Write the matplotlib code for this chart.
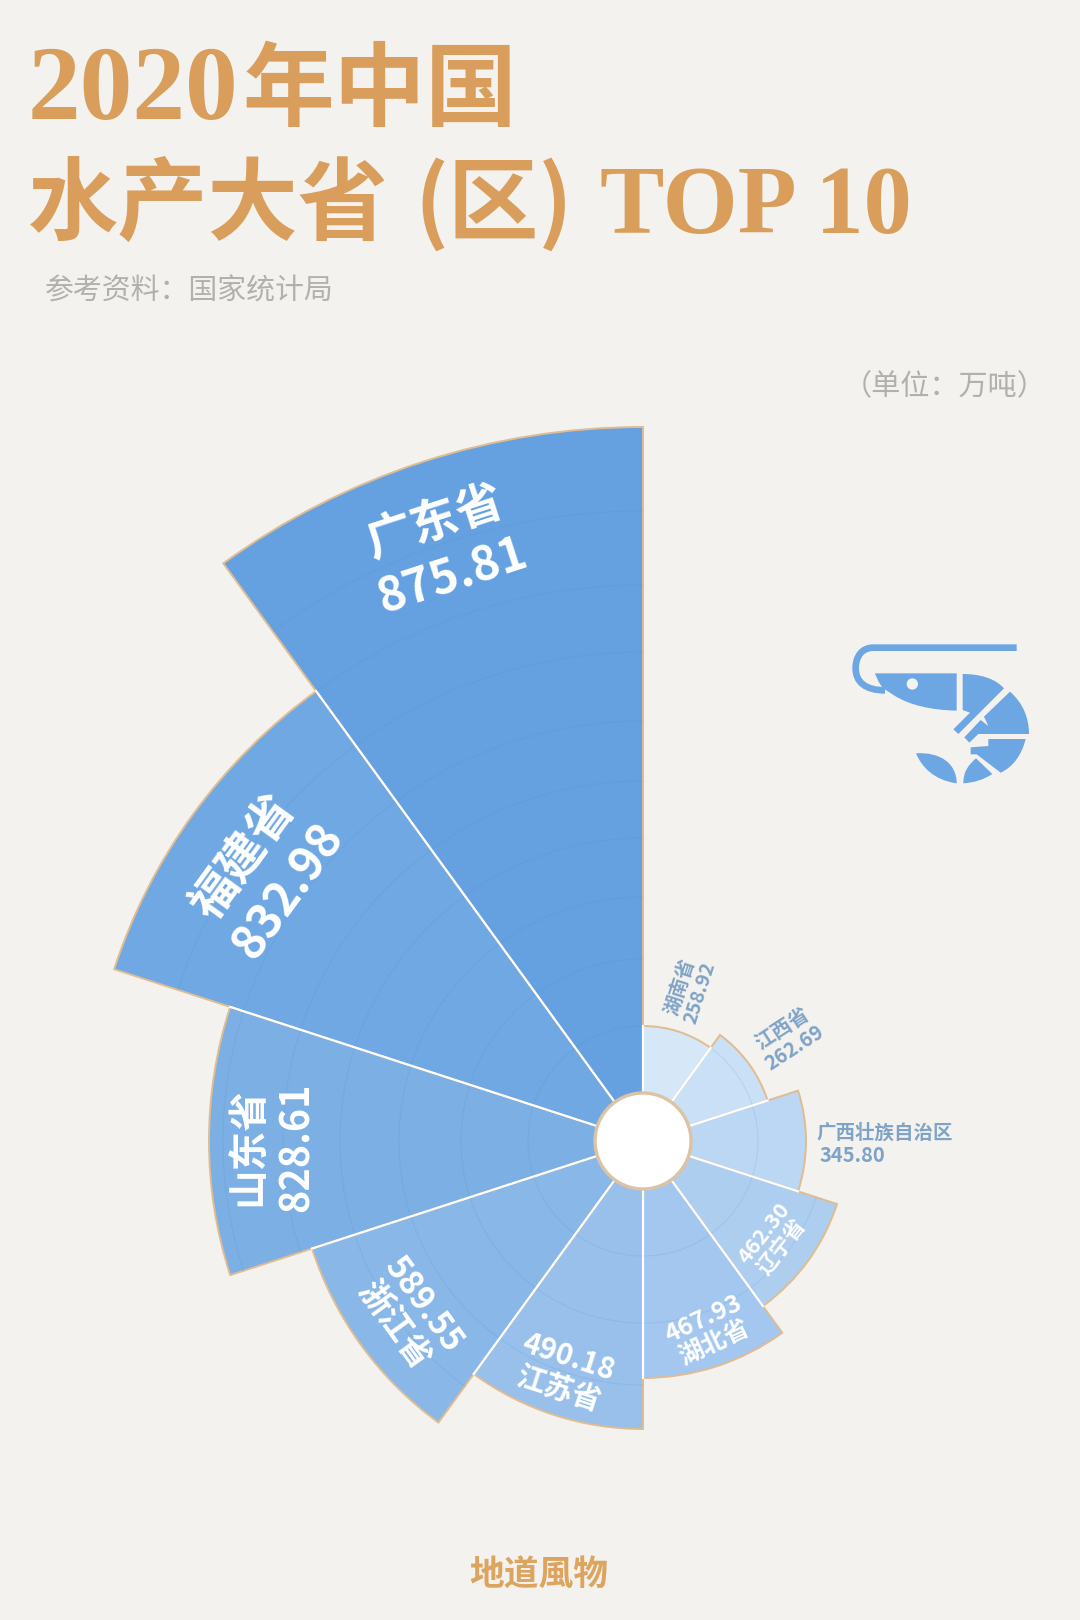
"""2020 China aquatic product top 10 provinces, rose chart."""
import matplotlib
matplotlib.use('Agg')
import matplotlib.pyplot as plt
import numpy as np
from matplotlib.patches import Circle, PathPatch
from matplotlib.path import Path

W, H = 1080, 1620
BG = '#F4F2EE'
GOLD = '#D99E5C'
TAN = '#DFBC92'
GREY = '#B2B0AA'
SMALL_BLUE = '#7FA3C7'
ICON_BLUE = '#6CA6E3'

plt.rcParams['font.family'] = ['Noto Sans CJK SC', 'DejaVu Sans']

# clockwise from 12 o'clock
provinces = ['湖南省', '江西省', '广西壮族自治区', '辽宁省', '湖北省',
             '江苏省', '浙江省', '山东省', '福建省', '广东省']
values = ['258.92', '262.69', '345.80', '462.30', '467.93',
          '490.18', '589.55', '828.61', '832.98', '875.81']
# the drawn bar lengths do not follow the values
bar_lengths = [115, 131, 163, 204, 237, 288, 348, 434, 556, 714]
ring_levels = [115, 182, 244, 303, 360, 420, 489, 556, 630]
colors = ['#D6E7F8', '#CAE0F6', '#BCD7F3', '#AECEF0', '#A3C7EE',
          '#98C0EB', '#88B7E8', '#7CAFE4', '#6FA8E2', '#65A1E0']

CX, CY = 643, 1141
HOLE = 48
R_AX = 800

fig = plt.figure(figsize=(W / 100, H / 100), dpi=100, facecolor=BG)

ax = fig.add_axes([(CX - R_AX) / W, 1 - (CY + R_AX) / H, 2 * R_AX / W, 2 * R_AX / H],
                  projection='polar')
ax.set_theta_zero_location('N')
ax.set_theta_direction(-1)
ax.set_ylim(0, R_AX)
ax.axis('off')

step = 2 * np.pi / len(bar_lengths)
centers = [step * (i + 0.5) for i in range(len(bar_lengths))]
ax.bar(centers, bar_lengths, width=step, color=colors, edgecolor=TAN, linewidth=1.4, zorder=2)

# faint rings, only inside each sector
for c, r_top in zip(centers, bar_lengths):
    arc = np.linspace(c - step / 2, c + step / 2, 40)
    for r in ring_levels:
        if r < r_top - 2:
            ax.plot(arc, [r] * 40, color='#4F86BE', alpha=0.14, lw=0.8, zorder=3)

# white dividers up to the shorter neighbour
for i in range(len(bar_lengths)):
    r_min = min(bar_lengths[i], bar_lengths[i - 1])
    ax.plot([step * i, step * i], [HOLE, r_min], color='white', lw=1.6, zorder=4)

# overlay in reference pixels for text and the icon
ov = fig.add_axes([0, 0, 1, 1], facecolor='none')
ov.set_xlim(0, W)
ov.set_ylim(H, 0)
ov.axis('off')

ov.add_patch(Circle((CX, CY), HOLE, facecolor='white', edgecolor='#DCC3A4', linewidth=2.4))

title_serif = ['Liberation Serif', 'Noto Sans CJK SC']
ov.text(28, 119, '2020', family=title_serif, fontsize=76, weight='bold', color=GOLD, va='baseline')
ov.text(243, 119, '年中国', fontsize=66, weight='bold', color=GOLD, va='baseline')
ov.text(27, 233, '水产大省', fontsize=65, weight='bold', color=GOLD, va='baseline')
ov.text(414, 233, '(区)', fontsize=65, weight='bold', color=GOLD, va='baseline')
ov.text(600, 233, 'TOP 10', family=title_serif, fontsize=69.5, weight='bold', color=GOLD, va='baseline')

ov.text(45, 292, '参考资料：国家统计局', fontsize=20.8, color=GREY, va='center')
ov.text(1047, 387, '（单位：万吨）', fontsize=21, color=GREY, va='center', ha='right')
ov.text(539, 1575, '地道風物', fontsize=25, weight='bold', color='#DDA45F', va='center', ha='center')

# name/value stacks: order flips on the lower half of the chart
label_xy = [(690, 990), (788, 1038), None, (773, 1240), (709, 1331),
            (564, 1373), (408, 1315), (273, 1147), (266, 874), (444, 549)]
label_rot = [72, 33, 0, 52, 25, -18, -54, 90, 54, 18]
label_size = [14, 14.5, 14, 15.5, 18, 21, 24, 28.5, 34, 34]
label_space = [1.08, 1.08, 1.0, 1.08, 1.12, 1.12, 1.12, 1.22, 1.22, 1.24]
label_color = [SMALL_BLUE, SMALL_BLUE, SMALL_BLUE] + ['white'] * 7
for i, (name, val) in enumerate(zip(provinces, values)):
    if label_xy[i] is None:
        continue
    txt = f'{val}\n{name}' if 3 <= i <= 6 else f'{name}\n{val}'
    ov.text(label_xy[i][0], label_xy[i][1], txt, fontsize=label_size[i], weight='bold',
            color=label_color[i], rotation=label_rot[i], rotation_mode='anchor',
            ha='center', va='center', multialignment='center', linespacing=label_space[i])

ov.text(816, 1133, provinces[2], fontsize=14, weight='bold', color=SMALL_BLUE, va='center')
ov.text(820, 1156, values[2], fontsize=14.5, weight='bold', color=SMALL_BLUE, va='center')


# shrimp icon, outline points in zoomed units
def sx(x):
    return 830 + x / 3


def sy(y):
    return 620 + y / 3


def icon_shape(verts, codes, **kw):
    pts = [(sx(x), sy(y)) for x, y in verts]
    ov.add_patch(PathPatch(Path(pts, codes), **kw))


M, L, C, Z = Path.MOVETO, Path.LINETO, Path.CURVE4, Path.CLOSEPOLY
fill = dict(facecolor=ICON_BLUE, edgecolor='none')

icon_shape([(560, 83), (130, 83), (95, 83), (77, 110), (77, 145), (77, 185), (105, 211), (165, 211)],
           [M, L, C, C, C, C, C, C], facecolor='none', edgecolor=ICON_BLUE, lw=4.8, capstyle='butt')
icon_shape([(135, 160), (380, 160), (380, 272), (300, 270), (240, 255), (195, 228),
            (160, 205), (145, 190), (135, 160), (135, 160)],
           [M, L, L, C, C, C, L, C, C, Z], **fill)
ov.add_patch(Circle((sx(247), sy(192)), 17 / 3, facecolor=BG, edgecolor='none'))
icon_shape([(398, 162), (450, 162), (495, 175), (522, 205), (385, 342), (370, 328),
            (420, 278), (398, 270), (398, 162)],
           [M, C, C, C, L, L, L, L, Z], **fill)
icon_shape([(540, 215), (580, 250), (597, 295), (597, 342), (445, 342), (418, 368), (403, 352),
            (452, 300), (475, 318), (462, 290), (540, 215)],
           [M, C, C, C, L, L, L, L, L, L, Z], **fill)
icon_shape([(475, 357), (587, 357), (575, 405), (550, 440), (512, 458), (440, 403),
            (422, 403), (422, 382), (475, 378), (475, 357)],
           [M, L, C, C, C, L, L, L, L, Z], **fill)
icon_shape([(258, 400), (330, 395), (380, 430), (380, 490), (310, 480), (275, 440), (258, 400), (258, 400)],
           [M, C, C, C, C, C, C, Z], **fill)
icon_shape([(438, 415), (487, 462), (460, 480), (430, 488), (400, 490), (400, 455), (415, 435), (438, 415), (438, 415)],
           [M, L, C, C, C, C, C, C, Z], **fill)

fig.savefig('out.png', dpi=100, facecolor=BG)
